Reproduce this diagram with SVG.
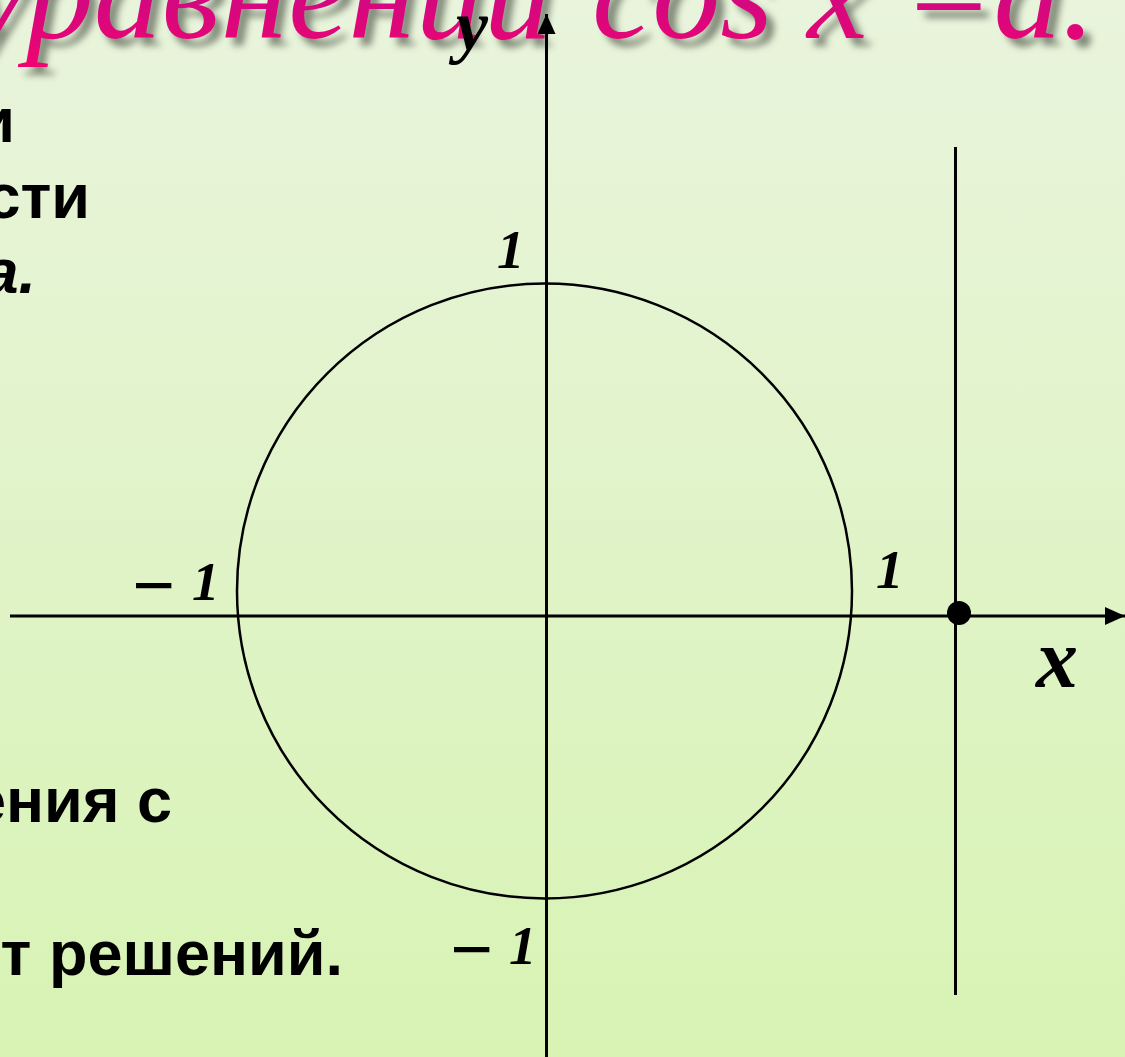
<svg xmlns="http://www.w3.org/2000/svg" width="1125" height="1057" viewBox="0 0 1125 1057">
<defs>
<linearGradient id="bg" x1="0" y1="0" x2="0" y2="1">
<stop offset="0" stop-color="#e9f4dc"/>
<stop offset="1" stop-color="#d8f3b4"/>
</linearGradient>
<linearGradient id="tg" x1="0" y1="0" x2="0" y2="1">
<stop offset="0" stop-color="#b00c92"/>
<stop offset="1" stop-color="#f00470"/>
</linearGradient>
<filter id="sh" x="-10%" y="-50%" width="120%" height="200%">
<feGaussianBlur stdDeviation="3.5"/>
</filter>
<marker id="arr" viewBox="0 0 20 18" refX="20" refY="9" markerWidth="20" markerHeight="18" markerUnits="userSpaceOnUse" orient="auto">
<path d="M0,0 L20,9 L0,18 Z" fill="#000"/>
</marker>
<style>
.title{font-family:"Liberation Serif",serif;font-style:italic;font-size:136px}
.body{font-family:"Liberation Sans",Arial,sans-serif;font-weight:bold;font-size:63px;fill:#000}
.m{font-family:"Liberation Serif",serif;font-weight:bold;font-style:italic;fill:#000}
.mn{font-family:"Liberation Serif",serif;font-weight:bold;font-style:normal;font-size:76px}
.ax{stroke:#000;stroke-width:3;fill:none}
</style>
</defs>
<rect width="1125" height="1057" fill="url(#bg)"/>
<g id="title">
<text class="title" fill="#5e6658" opacity="0.75" filter="url(#sh)"><tspan x="559" y="46" text-anchor="end">уравнений</tspan><tspan x="600" y="46">cos x =a.</tspan></text>
<text class="title" fill="url(#tg)"><tspan x="552" y="38" text-anchor="end">уравнений</tspan><tspan x="592" y="38">cos x =a.</tspan></text>
</g>
<g id="body-text">
<text class="body" x="15" y="142" text-anchor="end">и</text>
<text class="body" x="90" y="218" text-anchor="end">сти</text>
<text class="body" x="36" y="293" text-anchor="end" font-style="italic">а.</text>
<text class="body" x="172" y="822" text-anchor="end">ения с</text>
<text class="body" x="343" y="975" text-anchor="end">т решений.</text>
</g>
<g id="circle">
<circle cx="544.5" cy="591" r="307.5" fill="none" stroke="#000" stroke-width="2.5"/>
</g>
<g id="connectors">
<line id="x-axis" class="ax" x1="10" y1="616" x2="1125" y2="616" marker-end="url(#arr)"/>
<line id="y-axis" class="ax" x1="546.5" y1="1057" x2="546.5" y2="14" marker-end="url(#arr)"/>
<line id="line-a" class="ax" x1="955.5" y1="147" x2="955.5" y2="995"/>
</g>
<g id="point">
<circle cx="959" cy="613" r="12" fill="#000"/>
</g>
<g id="labels">
<text class="m" x="497" y="268" font-size="55">1</text>
<text class="m" x="876" y="588" font-size="55">1</text>
<text class="m" x="192" y="600" font-size="55">1</text>
<text class="mn" x="132" y="611">−</text>
<text class="m" x="509" y="964" font-size="55">1</text>
<text class="mn" x="450" y="975">−</text>
<text class="m" x="1036" y="687" font-size="84">x</text>
<text class="m" x="456" y="50" font-size="72">y</text>
</g>
</svg>
